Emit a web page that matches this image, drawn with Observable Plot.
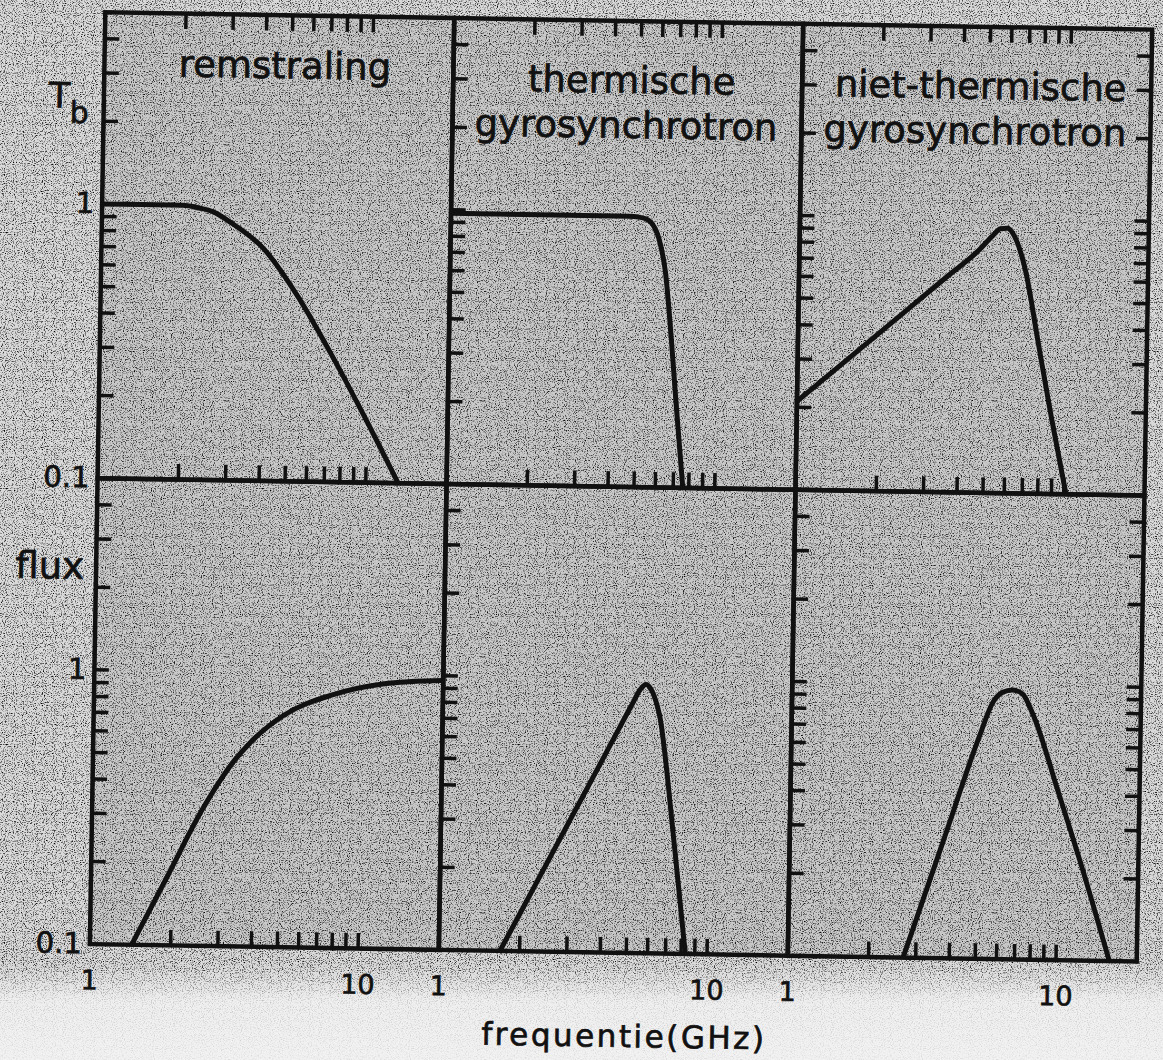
<!DOCTYPE html>
<html>
<head>
<meta charset="utf-8">
<script src="https://cdn.jsdelivr.net/npm/d3@7"></script>
<script src="https://cdn.jsdelivr.net/npm/@observablehq/plot@0.6"></script>
<style>
  html, body { margin: 0; padding: 0; }
  body {
    width: 1163px; height: 1060px; overflow: hidden; position: relative;
    background-color: #dadada;
    background-image:
      linear-gradient(to bottom, rgba(244,244,244,0) 0px, rgba(244,244,244,0) 965px, rgba(244,244,244,0.8) 1000px, rgba(244,244,244,0.9) 1060px),
      url("data:image/svg+xml;utf8,<svg xmlns='http://www.w3.org/2000/svg' width='256' height='256'><filter id='n'><feTurbulence type='fractalNoise' baseFrequency='0.9' numOctaves='2' seed='7' stitchTiles='stitch'/><feColorMatrix values='0 0 0 0 0  0 0 0 0 0  0 0 0 0 0  0 0 0 -2.8 1.42'/></filter><rect width='100%' height='100%' filter='url(%23n)'/></svg>");
  }
  #chart { position: absolute; left: 0; top: 0; }
  #chart svg { display: block; background: transparent; transform: rotate(0.95deg); transform-origin: 0 0; }
  #chart svg text { stroke: #111; stroke-width: 0.7px; }
</style>
</head>
<body>
<div id="chart"></div>
<script>
// ---------- categories ----------
const columns = ["remstraling", "thermische gyrosynchrotron", "niet-thermische gyrosynchrotron"];
const rows = ["Tb", "flux"];
const titleLine1 = ["remstraling", "thermische", "niet-thermische"];
const titleLine2 = ["", "gyrosynchrotron", "gyrosynchrotron"];
const rowMain = ["T", "flux"];
const rowSub = ["b", ""];
const xAxisLabel = "frequentie(GHz)";

// ---------- tick values ----------
const xMinorTicks = [2, 3, 4, 5, 6, 7, 8, 9, 10];
const yMinorTicks = [0.2, 0.3, 0.4, 0.5, 0.6, 0.7, 0.8, 0.9, 1, 2, 3, 4];
const xTickLabels = [1, 10];
const yTickLabels = [0.1, 1];

// ---------- series (frequency in GHz, value) ----------
// remstraling, T_b
const remTbFreq = [1, 2.0, 2.3, 2.6, 3.03, 4.04, 5.38, 7.19, 9.67, 13.2];
const remTbVal  = [1.0, 1.0, 0.98, 0.95, 0.87, 0.70, 0.48, 0.30, 0.178, 0.1];
// thermische gyrosynchrotron, T_b
const thTbFreq = [1, 4.6, 5.0, 5.35, 5.6, 5.97, 6.35, 6.74, 7.1, 7.6];
const thTbVal  = [0.97, 0.97, 0.965, 0.95, 0.92, 0.81, 0.61, 0.35, 0.2, 0.1];
// niet-thermische gyrosynchrotron, T_b
const ntTbFreq = [1, 2.02, 3.54, 4.67, 5.2, 5.6, 5.95, 6.3, 6.7, 6.98, 7.87, 8.9, 10.2];
const ntTbVal  = [0.21, 0.379, 0.608, 0.767, 0.86, 0.92, 0.925, 0.87, 0.75, 0.65, 0.354, 0.19, 0.1];
// remstraling, flux
const remFluxFreq = [1.43, 1.94, 2.55, 3.36, 3.87, 5.1, 7.8, 11.9, 20];
const remFluxVal  = [0.1, 0.181, 0.309, 0.475, 0.558, 0.70, 0.84, 0.925, 0.96];
// thermische gyrosynchrotron, flux
const thFluxFreq = [1.69, 2.91, 3.84, 4.41, 5.07, 5.45, 5.7, 5.95, 6.2, 6.45, 6.91, 7.15, 7.5, 7.77, 8.3];
const thFluxVal  = [0.1, 0.281, 0.475, 0.619, 0.806, 0.92, 0.955, 0.92, 0.84, 0.73, 0.458, 0.345, 0.232, 0.173, 0.1];
// niet-thermische gyrosynchrotron, flux
const ntFluxFreq = [2.69, 3.72, 5.0, 5.6, 6.09, 6.63, 7.23, 7.9, 10.0, 12.4, 15.8];
const ntFluxVal  = [0.1, 0.264, 0.64, 0.86, 0.94, 0.96, 0.93, 0.79, 0.405, 0.215, 0.1];

// ---------- tables built from the arrays ----------
const series = [
  [columns[0], rows[0], remTbFreq, remTbVal],
  [columns[1], rows[0], thTbFreq, thTbVal],
  [columns[2], rows[0], ntTbFreq, ntTbVal],
  [columns[0], rows[1], remFluxFreq, remFluxVal],
  [columns[1], rows[1], thFluxFreq, thFluxVal],
  [columns[2], rows[1], ntFluxFreq, ntFluxVal]
];
const curveTable = series.flatMap(([col, row, fr, va]) =>
  fr.map((f, i) => ({col, row, key: col + "|" + row, freq: f, val: va[i]})));

const titleTable = columns.map((c, i) => ({col: c, row: rows[0], line1: titleLine1[i], line2: titleLine2[i]}));
const rowLabelTable = rows.map((r, i) => ({col: columns[0], row: r, main: rowMain[i], sub: rowSub[i]}));
const xLabelTable = [{col: columns[1], row: rows[1], label: xAxisLabel}];
// tick-label tables: y labels in the left column of both rows, x labels under the bottom row
const yLabelTable = rows.flatMap(r => yTickLabels.map(v => ({col: columns[0], row: r, v})));
const xTickLabelTable = columns.flatMap(c => xTickLabels.map(v => ({col: c, row: rows[1], v})));

const INK = "#111111";
const FONT = "DejaVu Sans";
const TICK = 15;

const chart = Plot.plot({
  width: 1163,
  height: 1060,
  marginTop: 10,
  marginLeft: 104,
  marginRight: 11,
  marginBottom: 118,
  style: {fontFamily: FONT, fontSize: "28px", color: INK, background: "transparent", overflow: "visible"},
  fx: {domain: columns, padding: 0, axis: null},
  fy: {domain: rows, padding: 0, axis: null},
  x: {type: "log", domain: [1, 20], axis: null},
  y: {type: "log", domain: [0.1, 5], axis: null},
  marks: [
    Plot.frame({fill: "#000", fillOpacity: 0.075}),
    Plot.line(curveTable, {fx: "col", fy: "row", x: "freq", y: "val", z: "key",
      curve: "monotone-x", stroke: INK, strokeWidth: 5, clip: true,
      strokeLinejoin: "round", strokeLinecap: "butt"}),
    // inward ticks: bottom of every panel
    Plot.axisX({anchor: "bottom", ticks: xMinorTicks, tickSize: TICK, dy: -TICK,
      tickFormat: () => "", label: null, facetAnchor: null, stroke: INK, strokeWidth: 3.5}),
    // inward ticks: top of the top row
    Plot.axisX({anchor: "top", ticks: xMinorTicks, tickSize: TICK, dy: TICK,
      tickFormat: () => "", label: null, stroke: INK, strokeWidth: 3.5}),
    // inward ticks: left of every panel
    Plot.axisY({anchor: "left", ticks: yMinorTicks, tickSize: TICK, dx: TICK,
      tickFormat: () => "", label: null, facetAnchor: null, stroke: INK, strokeWidth: 3.5}),
    // inward ticks: right of right column
    Plot.axisY({anchor: "right", ticks: yMinorTicks, tickSize: TICK, dx: -TICK,
      tickFormat: () => "", label: null, stroke: INK, strokeWidth: 3.5}),
    // tick labels (through the y / x scales)
    Plot.text(yLabelTable, {fx: "col", fy: "row", y: "v", text: d => String(d.v),
      frameAnchor: "left", textAnchor: "end", lineAnchor: "middle", dx: -8, fontSize: 29, fill: INK}),
    Plot.text(xTickLabelTable, {fx: "col", fy: "row", x: "v", text: d => String(d.v),
      frameAnchor: "bottom", textAnchor: "middle", lineAnchor: "top", dy: 26, fontSize: 27, fill: INK}),
    // panel titles
    Plot.text(titleTable.filter(d => d.line2 === ""), {fx: "col", fy: "row", text: "line1",
      frameAnchor: "top", lineAnchor: "bottom", dy: 63, dx: 6, fontSize: 37, fill: INK}),
    Plot.text(titleTable.filter(d => d.line2 !== ""), {fx: "col", fy: "row", text: "line1",
      frameAnchor: "top", lineAnchor: "bottom", dy: 72, dx: 4, fontSize: 37, fill: INK}),
    Plot.text(titleTable.filter(d => d.line2 !== ""), {fx: "col", fy: "row", text: "line2",
      frameAnchor: "top", lineAnchor: "bottom", dy: 117, dx: -1, fontSize: 37, fill: INK}),
    // row labels (T_b, flux)
    Plot.text(rowLabelTable.filter(d => d.sub !== ""), {fx: "col", fy: "row", text: "main",
      frameAnchor: "top-left", textAnchor: "start", lineAnchor: "bottom", dx: -55, dy: 96, fontSize: 35, fill: INK}),
    Plot.text(rowLabelTable.filter(d => d.sub !== ""), {fx: "col", fy: "row", text: "sub",
      frameAnchor: "top-left", textAnchor: "start", lineAnchor: "bottom", dx: -34, dy: 111, fontSize: 30, fill: INK}),
    Plot.text(rowLabelTable.filter(d => d.sub === ""), {fx: "col", fy: "row", text: "main",
      frameAnchor: "top-left", textAnchor: "end", lineAnchor: "bottom", dx: -12, dy: 101, fontSize: 37, fill: INK}),
    // x axis title
    Plot.text(xLabelTable, {fx: "col", fy: "row", text: "label",
      frameAnchor: "bottom", lineAnchor: "bottom", dy: 94, dx: 12, fontSize: 31, fill: INK}),
    Plot.frame({stroke: INK, strokeWidth: 4.5})
  ]
});

document.getElementById("chart").appendChild(chart);
const svg = d3.select(chart);
svg.selectAll("text")
  .filter(function () { return this.textContent === xAxisLabel; })
  .style("letter-spacing", "2.5px");
</script>
</body>
</html>
